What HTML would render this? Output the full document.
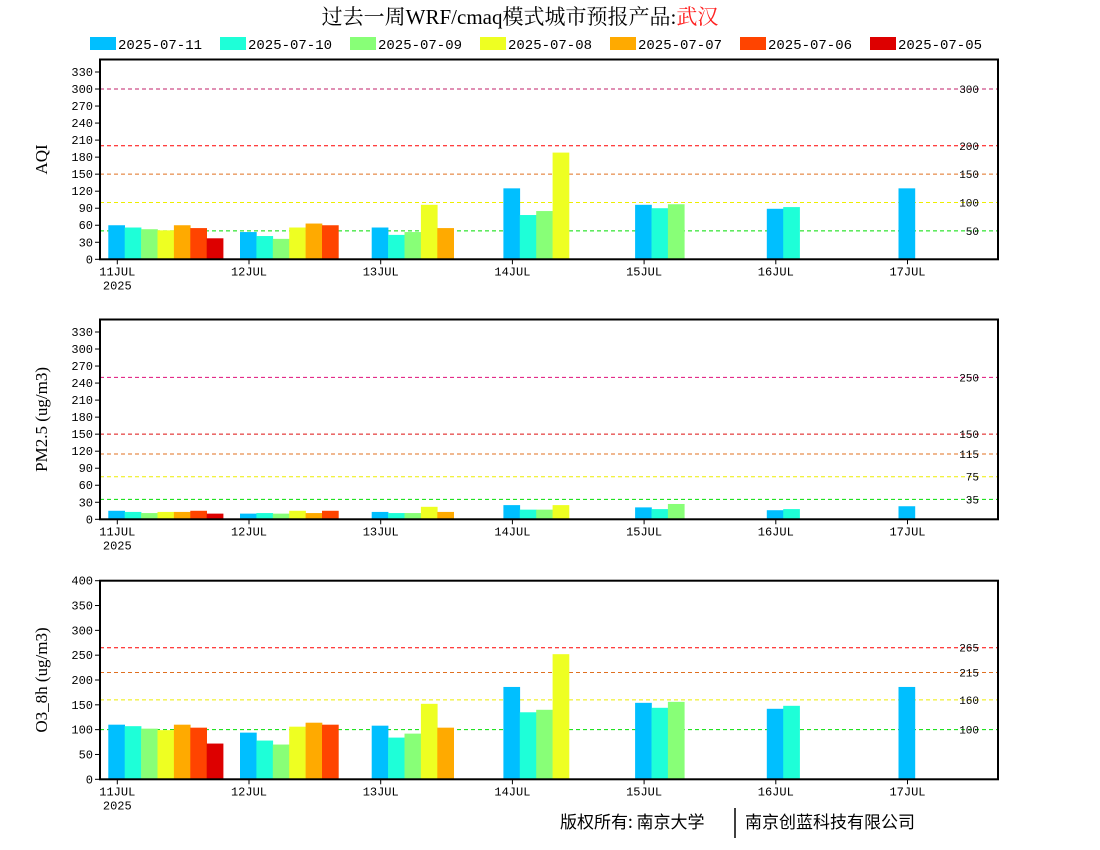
<!DOCTYPE html>
<html><head><meta charset="utf-8">
<style>
html,body{margin:0;padding:0;background:#fff;width:1100px;height:850px;overflow:hidden}
svg{display:block}
text{font-family:"Liberation Mono","Noto Sans CJK SC",monospace}
</style></head>
<body>
<svg id="chart" width="1100" height="850" xmlns="http://www.w3.org/2000/svg">
<text x="520" y="24" text-anchor="middle" font-size="21" style="font-family:'Liberation Serif','Noto Serif CJK SC',serif">过去一周WRF/cmaq模式城市预报产品:<tspan fill="#ff2020">武汉</tspan></text>
<g id="legend"></g>
<g id="panels"></g>
<text x="560" y="828" font-size="17" style="font-family:'Noto Sans CJK SC',sans-serif">版权所有: 南京大学</text>
<line x1="735" y1="808" x2="735" y2="838" stroke="#000" stroke-width="1.5"/>
<text x="745" y="828" font-size="17" style="font-family:'Noto Sans CJK SC',sans-serif">南京创蓝科技有限公司</text>
</svg>
<script>
const seriesNames = ["2025-07-11","2025-07-10","2025-07-09","2025-07-08","2025-07-07","2025-07-06","2025-07-05"];
const seriesColors = ["#00bfff","#1effd8","#88ff77","#eeff22","#ffaa00","#ff4400","#dd0000"];
const days = ["11JUL","12JUL","13JUL","14JUL","15JUL","16JUL","17JUL"];
// per series: values per day (null = missing)
const aqiValues = [
 [60,48,56,125,96,89,125],
 [56,41,43,78,90,92,null],
 [53,36,48,85,97,null,null],
 [51,56,96,188,null,null,null],
 [60,63,55,null,null,null,null],
 [55,60,null,null,null,null,null],
 [37,null,null,null,null,null,null]
];
const pmValues = [
 [15,10,13,25,21,16,23],
 [13,11,11,17,18,18,null],
 [11,10,11,17,27,null,null],
 [13,15,22,25,null,null,null],
 [13,11,13,null,null,null,null],
 [15,15,null,null,null,null,null],
 [10,null,null,null,null,null,null]
];
const o3Values = [
 [110,94,108,186,154,142,186],
 [107,78,84,135,144,148,null],
 [102,70,92,140,156,null,null],
 [99,106,152,252,null,null,null],
 [110,114,104,null,null,null,null],
 [104,110,null,null,null,null,null],
 [72,null,null,null,null,null,null]
];
const aqiTicks = [0,30,60,90,120,150,180,210,240,270,300,330];
const pmTicks = [0,30,60,90,120,150,180,210,240,270,300,330];
const o3Ticks = [0,50,100,150,200,250,300,350,400];
const aqiLevels = [50,100,150,200,300];
const pmLevels = [35,75,115,150,250];
const o3Levels = [100,160,215,265];
const aqiLevelColors = ["#00dd00","#eeee00","#e07020","#ff0000","#c0206a"];
const pmLevelColors = ["#00dd00","#eeee00","#e07020","#dd1010","#e0107a"];
const o3LevelColors = ["#00dd00","#eeee00","#e07020","#ff0000"];

const NS="http://www.w3.org/2000/svg";
function mk(tag,attrs,parent){const e=document.createElementNS(NS,tag);for(const k in attrs)e.setAttribute(k,attrs[k]);parent.appendChild(e);return e;}

const leg=document.getElementById('legend');
seriesNames.forEach((n,i)=>{
  const x=90+i*130;
  const r=mk('rect',{x:x,y:37,width:26,height:13,fill:seriesColors[i]},leg);
  
  
  const t=mk('text',{x:x+28,y:49,'font-size':14},leg);
  
  
  t.textContent=n;
});

const L=100,R=998,day0=117.3,dayW=131.7,barW=16.4;
function drawPanel(cfg){
  const g=mk('g',{},document.getElementById('panels'));
  
  
  const y=v=>cfg.bottom-(v/cfg.max)*(cfg.bottom-cfg.top);
  const xDay=d=>day0+d*dayW;
  cfg.levels.forEach((lv,i)=>{
    const ln=mk('line',{x1:L,x2:R,y1:y(lv),y2:y(lv),stroke:cfg.levelColors[i],'stroke-width':1,'stroke-dasharray':'4,3'},g);
    
    
    const t=mk('text',{x:979,y:y(lv)+4,'text-anchor':'end','font-size':11},g);
    
    
    t.textContent=lv;
  });
  cfg.values.forEach((ser,s)=>{
    ser.forEach((v,d)=>{
      if(v==null)return;
      const bx=xDay(d)-9+s*barW;
      const r=mk('rect',{x:bx,y:y(v),width:barW+0.3,height:cfg.bottom-y(v),fill:seriesColors[s]},g);
      
      
    });
  });
  const fr=mk('rect',{x:L,y:cfg.top,width:R-L,height:cfg.bottom-cfg.top,fill:'none',stroke:'#000','stroke-width':2},g);
  
  
  cfg.ticks.forEach(tv=>{
    mk('line',{x1:L-5,x2:L,y1:y(tv),y2:y(tv),stroke:'#000'},g);
    const t=mk('text',{x:L-7,y:y(tv)+4,'text-anchor':'end','font-size':12},g);
    
    
    t.textContent=tv;
  });
  days.forEach((dn,d)=>{
    mk('line',{x1:xDay(d),x2:xDay(d),y1:cfg.bottom,y2:cfg.bottom+5,stroke:'#000'},g);
    const t=mk('text',{x:xDay(d),y:cfg.bottom+16,'text-anchor':'middle','font-size':12},g);
    
    
    t.textContent=dn;
  });
  const yr=mk('text',{x:day0,y:cfg.bottom+30,'text-anchor':'middle','font-size':12},g);
  
  
  yr.textContent='2025';
  const cy=(cfg.top+cfg.bottom)/2;
  const yl=mk('text',{x:47,y:cy,'text-anchor':'middle','font-size':17,transform:'rotate(-90 47 '+cy+')',style:"font-family:'Liberation Serif',serif"},g);
  
  
  yl.textContent=cfg.label;
}
drawPanel({name:'aqi',top:59.5,bottom:259.3,max:352,values:aqiValues,ticks:aqiTicks,levels:aqiLevels,levelColors:aqiLevelColors,label:'AQI'});
drawPanel({name:'pm25',top:319.5,bottom:519.3,max:352,values:pmValues,ticks:pmTicks,levels:pmLevels,levelColors:pmLevelColors,label:'PM2.5 (ug/m3)'});
drawPanel({name:'o3',top:580.7,bottom:779.3,max:400,values:o3Values,ticks:o3Ticks,levels:o3Levels,levelColors:o3LevelColors,label:'O3_8h (ug/m3)'});
</script>
</body></html>
